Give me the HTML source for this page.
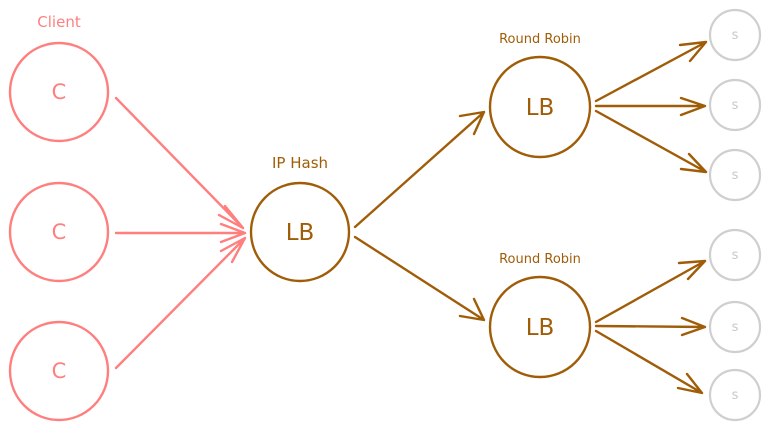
<!DOCTYPE html>
<html><head><meta charset="utf-8"><style>
html,body{margin:0;padding:0;background:#fff;}
svg{display:block}
text{font-family:"Comic Sans MS","DejaVu Sans","Liberation Sans",sans-serif;text-anchor:middle}
</style></head><body>
<svg width="770" height="433" viewBox="0 0 770 433" xmlns="http://www.w3.org/2000/svg">
<g fill="none" stroke-linecap="round" stroke-linejoin="round">
<g stroke="#ff7f7f" stroke-width="2.4">
<circle cx="59" cy="92" r="49"/>
<circle cx="59" cy="232" r="49"/>
<circle cx="59" cy="371" r="49"/>
<path d="M116 98 L243 228 M225 206 L243 228 L219 215"/>
<path d="M116 233 L245 233 M221 224 L245 233 L221 242"/>
<path d="M116 368 L245 238 M221 251 L245 238 L232 262"/>
</g>
<g stroke="#a05d08" stroke-width="2.4">
<circle cx="300" cy="232" r="49"/>
<circle cx="540" cy="107" r="50"/>
<circle cx="540" cy="327" r="50"/>
<path d="M355 227 L484 112 M460 116 L484 112 L474 134"/>
<path d="M355 237 L484 320 M474 299 L484 320 L460 316"/>
<path d="M596 101 L706 42 M680 45 L706 42 L690 61"/>
<path d="M596 106 L705 106 M681 98 L705 106 L681 115"/>
<path d="M596 111 L706 172 M689 154 L706 172 L681 169"/>
<path d="M596 322 L705 261 M679 263 L705 261 L688 279"/>
<path d="M596 326 L705 327 M682 318 L705 327 L682 335"/>
<path d="M596 331 L702 393 M687 374 L702 393 L678 388"/>
</g>
<g stroke="#cfcfcf" stroke-width="2.2">
<circle cx="735" cy="35" r="25"/>
<circle cx="735" cy="105" r="25"/>
<circle cx="735" cy="175" r="25"/>
<circle cx="735" cy="255" r="25"/>
<circle cx="735" cy="327" r="25"/>
<circle cx="735" cy="395" r="25"/>
</g>
</g>
<g fill="#ff7f7f">
<text x="59" y="27" font-size="15">Client</text>
<text x="59" y="99" font-size="21">C</text>
<text x="59" y="239" font-size="21">C</text>
<text x="59" y="378" font-size="21">C</text>
</g>
<g fill="#a05d08">
<text x="300" y="168" font-size="15">IP Hash</text>
<text x="300" y="240" font-size="23">LB</text>
<text x="540" y="43" font-size="13">Round Robin</text>
<text x="540" y="115" font-size="23">LB</text>
<text x="540" y="263" font-size="13">Round Robin</text>
<text x="540" y="335" font-size="23">LB</text>
</g>
<g fill="#c8c8c8" font-size="13">
<text x="735" y="39">s</text>
<text x="735" y="109">s</text>
<text x="735" y="179">s</text>
<text x="735" y="259">s</text>
<text x="735" y="331">s</text>
<text x="735" y="399">s</text>
</g>
</svg>
</body></html>
